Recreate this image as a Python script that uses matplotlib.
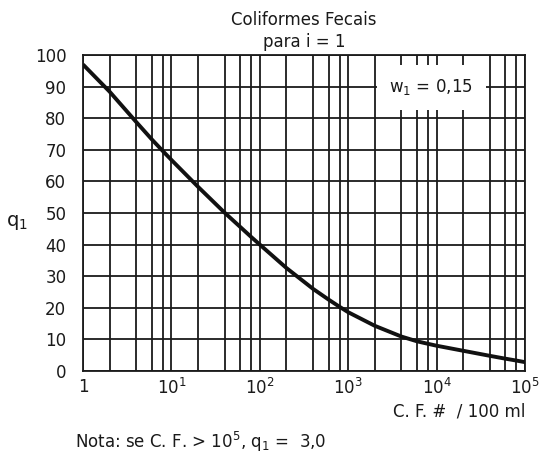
import numpy as np
import matplotlib
matplotlib.use("Agg")
import matplotlib.pyplot as plt
import matplotlib.ticker as ticker

# Curve: coliform count (#/100 ml) vs q1
cf_count = [1, 2, 4, 6, 8, 10, 20, 40, 60, 80, 100, 200, 400, 600, 800,
            1000, 2000, 4000, 6000, 8000, 1e4, 2e4, 4e4, 6e4, 8e4, 1e5]
q_value = [97.0, 88.4, 78.8, 73.3, 69.6, 66.8, 58.3, 50.1, 45.6, 42.4, 40.0,
           32.6, 26.0, 22.6, 20.3, 18.6, 14.3, 10.9, 9.4, 8.6, 8.0, 6.4,
           4.8, 3.9, 3.3, 2.8]

x_ticks = [1, 10, 100, 1000, 1e4, 1e5]
x_ticklabels = ["1", "10$^{1}$", "10$^{2}$", "10$^{3}$", "10$^{4}$", "10$^{5}$"]
y_ticks = list(range(0, 101, 10))

title = "Coliformes Fecais\npara i = 1"
weight_label = "w$_{1}$ = 0,15"
note = "Nota: se C. F. > 10$^{5}$, q$_{1}$ =  3,0"

plt.rcParams["font.family"] = "DejaVu Sans"
plt.rcParams["mathtext.fontset"] = "dejavusans"
FS = 12
INK = "#1a1a1a"

fig = plt.figure(figsize=(5.47, 4.54), dpi=100)
ax = fig.add_axes([83 / 547, 1 - 371 / 454, 442 / 547, 316 / 454])

ax.plot(cf_count, q_value, color="#111111", lw=2.8, solid_joinstyle="round",
        solid_capstyle="butt", zorder=4)

ax.set_xscale("log")
ax.set_xlim(1, 1e5)
ax.set_ylim(0, 100)

minor = [m * 10 ** k for k in range(5) for m in (2, 4, 6, 8)]
ax.xaxis.set_major_locator(ticker.FixedLocator(x_ticks))
ax.xaxis.set_minor_locator(ticker.FixedLocator(minor))
ax.xaxis.set_minor_formatter(ticker.NullFormatter())
ax.set_xticklabels(x_ticklabels)
ax.set_yticks(y_ticks)

ax.grid(True, which="both", axis="x", color=INK, lw=1.3)
ax.grid(True, which="major", axis="y", color=INK, lw=1.3)
ax.tick_params(which="both", length=0, labelsize=FS, colors=INK)
ax.tick_params(axis="x", pad=5)
ax.tick_params(axis="y", pad=12)
for s in ax.spines.values():
    s.set_color(INK)
    s.set_linewidth(1.3)

ax.set_title(title, fontsize=FS, color=INK, pad=6, linespacing=1.25)
ax.set_xlabel("C. F. #  / 100 ml", fontsize=FS, color=INK, ha="right")
ax.xaxis.set_label_coords(1.0, -0.1)
ax.set_ylabel("q$_{1}$", fontsize=FS + 2, color=INK, rotation=0,
              va="center")
ax.yaxis.set_label_coords(-0.15, 0.47)

ax.text(8700, 89.8, weight_label, fontsize=FS, color=INK, ha="center",
        va="center", zorder=5,
        bbox=dict(boxstyle="square,pad=0.75", facecolor="white",
                  edgecolor="none"))

fig.text(75 / 547, 1 - 442 / 454, note, fontsize=FS, color=INK,
         ha="left", va="center")

fig.savefig("out.png", dpi=100)
